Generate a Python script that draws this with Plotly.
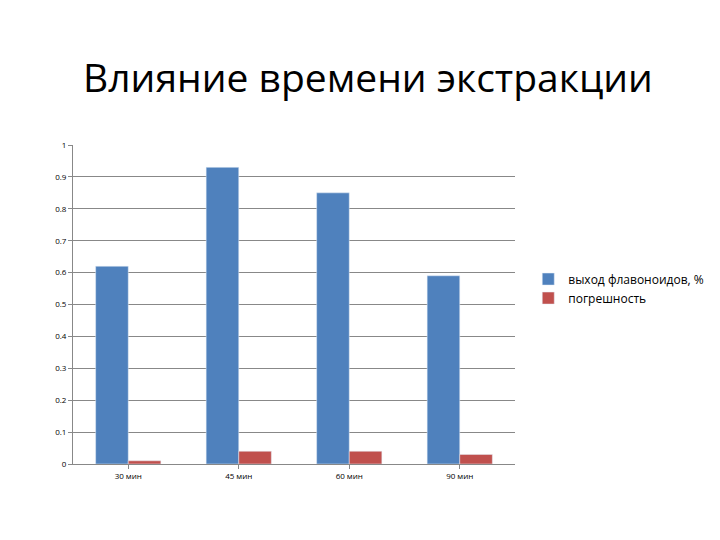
import plotly.graph_objects as go

categories = ['30 мин', '45 мин', '60 мин', '90 мин']
flavonoids = [0.62, 0.93, 0.85, 0.59]
error = [0.01, 0.04, 0.04, 0.03]

fig = go.Figure()
fig.add_trace(go.Bar(x=categories, y=flavonoids, name='выход флавоноидов, %',
                     marker_color='#4F81BD'))
fig.add_trace(go.Bar(x=categories, y=error, name='погрешность',
                     marker_color='#C0504D'))

fig.update_layout(
    width=720, height=540,
    title=dict(text='Влияние времени экстракции', x=0.5, xanchor='center',
               y=0.87, yanchor='middle',
               font=dict(family='Open Sans, Liberation Sans', size=39, color='#000')),
    font=dict(family='Open Sans, Liberation Sans', size=8, color='#000'),
    paper_bgcolor='white', plot_bgcolor='white',
    barmode='group', bargap=0.41, bargroupgap=0,
    margin=dict(l=65, r=213, t=137, b=84, autoexpand=False),
    legend=dict(x=1.03, y=0.55, yanchor='middle', font=dict(size=12),
                itemwidth=30, tracegroupgap=8),
    showlegend=True,
)
fig.update_yaxes(range=[0, 1], dtick=0.1, showgrid=True, gridcolor='#888',
                 gridwidth=1, showline=True, linecolor='#888', ticks='outside',
                 ticklen=4, tickcolor='#888', zeroline=False)
fig.update_xaxes(showline=True, linecolor='#888', ticks='outside', ticklen=4,
                 tickcolor='#888')

fig.write_html('out.html')
